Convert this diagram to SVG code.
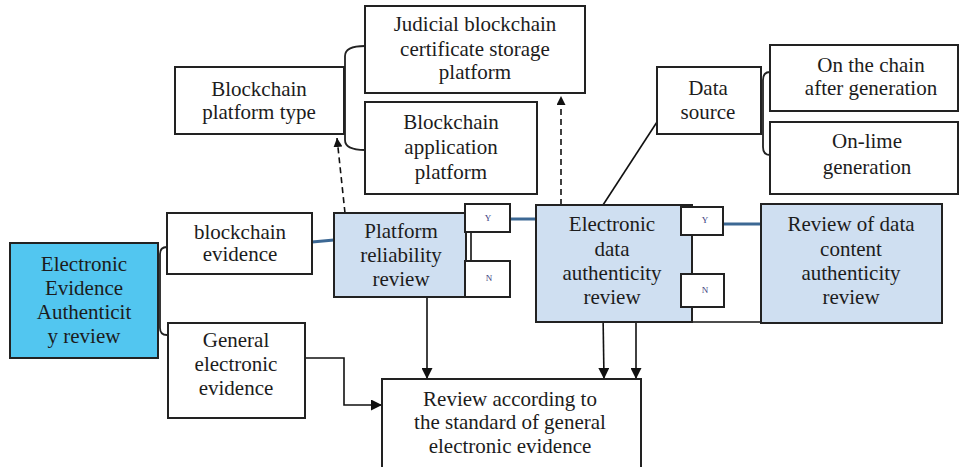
<svg xmlns="http://www.w3.org/2000/svg" width="960" height="467" viewBox="0 0 960 467" font-family="'Liberation Serif', 'DejaVu Serif', serif">
<defs>
<style>
.b{fill:#fff;stroke:#222;stroke-width:2}
.lb{fill:#cfdff1;stroke:#222;stroke-width:2}
.cy{fill:#52c6f0;stroke:#222;stroke-width:2}
text{font-family:'Liberation Serif','DejaVu Serif',serif;font-size:21px;fill:#1c1c1c;text-anchor:middle}
.s{font-size:9px;fill:#3a3a80}
.ln{fill:none;stroke:#111;stroke-width:1.6}
.bl{fill:none;stroke:#3c6894;stroke-width:3}
.ds{fill:none;stroke:#111;stroke-width:1.6;stroke-dasharray:6,4}
.br{fill:none;stroke:#222;stroke-width:1.8}
</style>
<marker id="ah" viewBox="0 0 10 10" refX="10" refY="5" markerWidth="9" markerHeight="9" markerUnits="userSpaceOnUse" orient="auto"><path d="M0,0L10,5L0,10z" fill="#111"/></marker>
<marker id="ah2" viewBox="0 0 10 10" refX="10" refY="5" markerWidth="11" markerHeight="11" markerUnits="userSpaceOnUse" orient="auto"><path d="M0,0L10,5L0,10z" fill="#111"/></marker>
</defs>

<g id="connectors">
<path class="br" d="M167,247 Q160,247 160,254 L160,328 Q160,335 167,335"/>
<path class="br" d="M365,46 Q345,46 345,56 L345,140 Q345,150 365,150"/>
<path class="br" d="M770,72 Q763,72 763,80 L763,147 Q763,155 770,155"/>
<path class="bl" d="M312,242 L334,240"/>
<path class="bl" d="M510,219 L536,219"/>
<path class="bl" d="M723,224 L761,224"/>
<path class="ds" d="M345,213 L337,138" marker-end="url(#ah)"/>
<path class="ds" d="M561,205 L561,96" marker-end="url(#ah)"/>
<path class="ln" d="M657,122 L603,205"/>
<path class="ln" d="M471,232 L471,261"/>
<path class="ln" d="M692,235 L692,274 M692,307 L692,322"/>
<path class="ln" d="M536,322 L761,322"/>
<path class="ln" d="M427,288 L427,379" marker-end="url(#ah2)"/>
<path class="ln" d="M603,313 L604,379" marker-end="url(#ah2)"/>
<path class="ln" d="M636,322 L636,379" marker-end="url(#ah2)"/>
<path class="ln" d="M305,358 L344,358 L344,405 L382,405" marker-end="url(#ah2)"/>
</g>

<g id="n-evidence"><rect class="cy" x="10" y="243" width="148" height="115"/>
<text x="84" y="271">Electronic</text><text x="84" y="295">Evidence</text><text x="84" y="319">Authenticit</text><text x="84" y="343">y review</text></g>

<g id="n-blockchain-evidence"><rect class="b" x="167" y="213" width="145" height="61"/>
<text x="240" y="239">blockchain</text><text x="240" y="261">evidence</text></g>

<g id="n-general"><rect class="b" x="168" y="323" width="137" height="95"/>
<text x="236" y="347">General</text><text x="236" y="371">electronic</text><text x="236" y="395">evidence</text></g>

<g id="n-platform-type"><rect class="b" x="175" y="67" width="169" height="67"/>
<text x="259" y="96">Blockchain</text><text x="259" y="119">platform type</text></g>

<g id="n-judicial"><rect class="b" x="365" y="6" width="220" height="87"/>
<text x="475" y="31">Judicial blockchain</text><text x="475" y="56">certificate  storage</text><text x="475" y="79">platform</text></g>

<g id="n-application"><rect class="b" x="365" y="102" width="172" height="92"/>
<text x="451" y="129">Blockchain</text><text x="451" y="154">application</text><text x="451" y="179">platform</text></g>

<g id="n-platform-review"><rect class="lb" x="334" y="213" width="132" height="84"/>
<text x="401" y="238">Platform</text><text x="401" y="262">reliability</text><text x="401" y="286">review</text></g>
<g id="n-y1"><rect class="b" x="465" y="204" width="45" height="28"/><text class="s" x="488" y="221">Y</text></g>
<g id="n-n1"><rect class="b" x="465" y="261" width="45" height="36"/><text class="s" x="489" y="281">N</text></g>

<g id="n-data-review"><rect class="lb" x="536" y="205" width="156" height="117"/>
<text x="612" y="231">Electronic</text><text x="612" y="256">data</text><text x="612" y="280">authenticity</text><text x="612" y="304">review</text></g>
<g id="n-y2"><rect class="b" x="681" y="207" width="42" height="28"/><text class="s" x="705" y="223">Y</text></g>
<g id="n-n2"><rect class="b" x="681" y="274" width="43" height="33"/><text class="s" x="705" y="293">N</text></g>

<g id="n-content-review"><rect class="lb" x="761" y="204" width="181" height="119"/>
<text x="851" y="231">Review of data</text><text x="851" y="256">content</text><text x="851" y="280">authenticity</text><text x="851" y="304">review</text></g>

<g id="n-data-source"><rect class="b" x="657" y="67" width="104" height="67"/>
<text x="708" y="95">Data</text><text x="708" y="119">source</text></g>

<g id="n-on-chain"><rect class="b" x="770" y="45" width="188" height="66"/>
<text x="871" y="72">On the chain</text><text x="871" y="95">after generation</text></g>

<g id="n-online"><rect class="b" x="770" y="122" width="188" height="72"/>
<text x="867" y="148">On-lime</text><text x="867" y="174">generation</text></g>

<g id="n-general-review"><rect class="b" x="382" y="379" width="259" height="100"/>
<text x="510" y="406">Review according to</text><text x="510" y="429">the standard of general</text><text x="510" y="453">electronic evidence</text></g>
</svg>
